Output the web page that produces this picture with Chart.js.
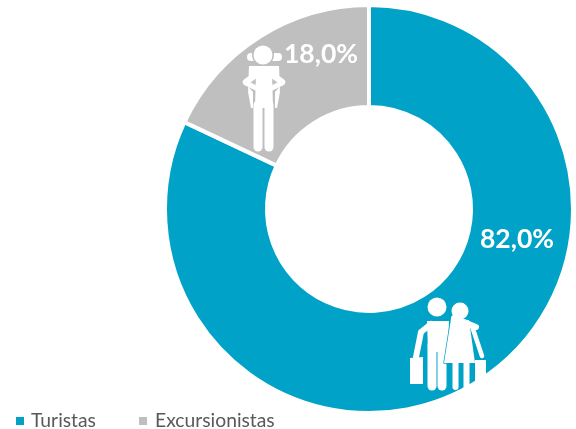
<!DOCTYPE html>
<html>
<head>
<meta charset="utf-8">
<script src="https://cdn.jsdelivr.net/npm/chart.js@4"></script>
<style>
  html, body { margin: 0; padding: 0; background: #fff; }
  #caja { position: relative; width: 576px; height: 429px; overflow: hidden; }
  #leyenda { position: absolute; left: 0; top: 407px; font: 19.3px Lato, sans-serif; color: #595959; }
  #leyenda span { position: absolute; top: 0; white-space: nowrap; line-height: 26px; }
  #leyenda i { position: absolute; top: 10px; width: 8px; height: 8px; }
</style>
</head>
<body>
<div id="caja">
  <canvas id="grafica" width="576" height="429"></canvas>
  <div id="leyenda"></div>
</div>
<script>
const categorias = ["Turistas", "Excursionistas"];
const valores = [82.0, 18.0];
const colores = ["#00A3C7", "#BFBFBF"];
const etiquetas = ["82,0%", "18,0%"];
const posEtiquetas = [[517, 239], [321, 54]];
const posLeyenda = [[16, 31], [139, 155]];

// ======= LEYENDA =======
const leyenda = document.getElementById("leyenda");
categorias.forEach((c, i) => {
  leyenda.innerHTML += `<i style="left:${posLeyenda[i][0]}px;background:${colores[i]}"></i>` +
    `<span style="left:${posLeyenda[i][1]}px">${c}</span>`;
});

// ======= ICONOS =======
function palo(ctx, puntos, ancho) {
  ctx.lineWidth = ancho;
  ctx.beginPath();
  puntos.forEach((p, i) => i ? ctx.lineTo(p[0], p[1]) : ctx.moveTo(p[0], p[1]));
  ctx.stroke();
}
function circulo(ctx, x, y, r) {
  ctx.beginPath();
  ctx.arc(x, y, r, 0, Math.PI * 2);
  ctx.fill();
}
function poligono(ctx, puntos) {
  ctx.beginPath();
  puntos.forEach((p, i) => i ? ctx.lineTo(p[0], p[1]) : ctx.moveTo(p[0], p[1]));
  ctx.closePath();
  ctx.fill();
}
function mochilero(ctx) {
  // mochila
  palo(ctx, [[251, 57], [278, 57]], 8);
  poligono(ctx, [[249, 66], [279, 66], [280, 92], [277, 108], [251, 108], [248, 92]]);
  // brazos y cuerpo, separados de la mochila con una linea gris
  ctx.fillStyle = "#BFBFBF";
  circulo(ctx, 263, 55, 11);
  poligono(ctx, [[248, 86], [256, 72], [272, 72], [280, 86], [275, 92], [275, 110], [253, 110], [253, 92]]);
  ctx.fillStyle = "#fff";
  palo(ctx, [[246, 82], [258, 73], [270, 73], [282, 82]], 6.5);
  palo(ctx, [[246, 83], [256, 88]], 5);
  palo(ctx, [[282, 83], [272, 88]], 5);
  circulo(ctx, 263, 55, 9.5);
  poligono(ctx, [[256, 72], [272, 72], [273, 108], [255, 108]]);
  // piernas
  palo(ctx, [[258, 105], [258, 147]], 9);
  palo(ctx, [[269, 105], [269, 147]], 9);
}
function pareja(ctx) {
  // hombre
  circulo(ctx, 437, 307, 9.5);
  poligono(ctx, [[427, 321], [449, 321], [448, 352], [428, 352]]);
  palo(ctx, [[431, 324], [421, 332], [416, 357]], 6);
  palo(ctx, [[432, 345], [432, 386]], 9);
  palo(ctx, [[442, 345], [442, 386]], 9);
  poligono(ctx, [[410, 358], [423, 357], [423, 384], [410, 384]]);
  // mujer
  circulo(ctx, 460, 311, 8.5);
  ctx.strokeStyle = "#00A3C7";
  ctx.lineWidth = 1.5;
  ctx.beginPath();
  ctx.moveTo(451, 319);
  ctx.lineTo(469, 320);
  ctx.lineTo(475, 363);
  ctx.lineTo(444, 363);
  ctx.closePath();
  ctx.stroke();
  poligono(ctx, [[451, 319], [469, 320], [475, 363], [444, 363]]);
  ctx.strokeStyle = "#fff";
  palo(ctx, [[454, 318], [476, 327]], 6);
  palo(ctx, [[472, 326], [482, 356]], 4.5);
  palo(ctx, [[455.5, 360], [455.5, 387]], 6);
  palo(ctx, [[466.5, 360], [466.5, 387]], 6);
  poligono(ctx, [[475, 360], [486, 360], [486, 388], [475, 388]]);
}

const decoracion = {
  id: "decoracion",
  afterDatasetsDraw(chart) {
    const ctx = chart.ctx;
    ctx.save();
    ctx.fillStyle = "#fff";
    ctx.strokeStyle = "#fff";
    ctx.lineCap = "round";
    ctx.lineJoin = "round";
    mochilero(ctx);
    pareja(ctx);
    ctx.font = "bold 26.5px Lato, sans-serif";
    ctx.textAlign = "center";
    ctx.textBaseline = "middle";
    etiquetas.forEach((t, i) => ctx.fillText(t, posEtiquetas[i][0], posEtiquetas[i][1]));
    ctx.restore();
  }
};

// ======= GRAFICA =======
new Chart(document.getElementById("grafica"), {
  type: "doughnut",
  data: {
    labels: categorias,
    datasets: [{
      data: valores,
      backgroundColor: colores,
      borderColor: "#fff",
      borderWidth: 4
    }]
  },
  options: {
    responsive: false,
    animation: false,
    cutout: "50%",
    layout: { padding: { left: 163, right: 1, top: 3, bottom: 14 } },
    plugins: { legend: { display: false }, tooltip: { enabled: false } }
  },
  plugins: [decoracion]
});
</script>
</body>
</html>
